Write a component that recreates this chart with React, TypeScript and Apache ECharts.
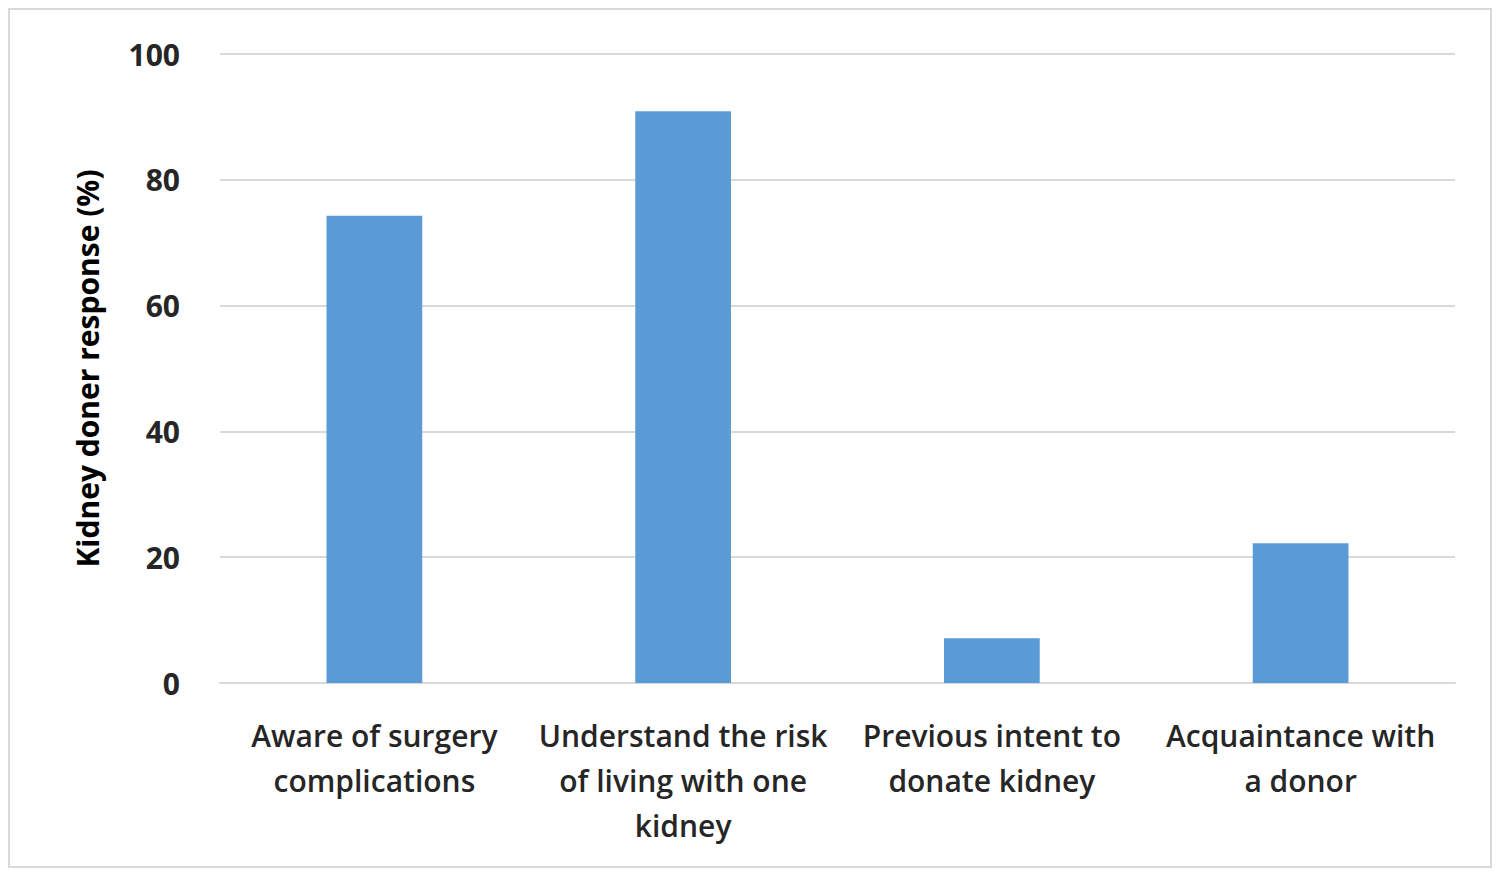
import React, { useEffect, useRef } from 'react'
import * as echarts from 'echarts'

const categories = [
  'Aware of surgery\ncomplications',
  'Understand the risk\nof living with one\nkidney',
  'Previous intent to\ndonate kidney',
  'Acquaintance with\na donor',
]
const responses = [74.3, 90.9, 7.1, 22.2]

const App = () => {
  const chartRef = useRef<HTMLDivElement>(null)

  useEffect(() => {
    if (!chartRef.current) return
    const chart = echarts.init(chartRef.current, undefined, { renderer: 'svg' })
    chart.setOption({
      animation: false,
      textStyle: { fontFamily: 'Open Sans' },
      grid: { left: 210, right: 35, top: 44, bottom: 183 },
      xAxis: {
        type: 'category',
        data: categories,
        axisLine: { lineStyle: { color: '#d9d9d9', width: 2 } },
        axisTick: { show: false },
        axisLabel: { color: '#262626', fontSize: 30, fontWeight: 600, lineHeight: 45, margin: 30, interval: 0 },
      },
      yAxis: {
        type: 'value',
        min: 0,
        max: 100,
        interval: 20,
        name: 'Kidney doner response (%)',
        nameLocation: 'middle',
        nameGap: 118,
        nameTextStyle: { color: '#000', fontSize: 30, fontWeight: 'bold' },
        axisLabel: { color: '#262626', fontSize: 30, fontWeight: 'bold', margin: 40 },
        splitLine: { lineStyle: { color: '#d9d9d9', width: 2 } },
      },
      series: [
        {
          type: 'bar',
          data: responses,
          barWidth: '31%',
          itemStyle: { color: '#5b9bd5' },
        },
      ],
    })
    return () => chart.dispose()
  }, [])

  return (
    <div style={{ width: 1484, height: 860, border: '2px solid #d9d9d9', boxSizing: 'border-box', margin: -8 + 8 }}>
      <div ref={chartRef} style={{ width: '100%', height: '100%' }} />
    </div>
  )
}

export default App
